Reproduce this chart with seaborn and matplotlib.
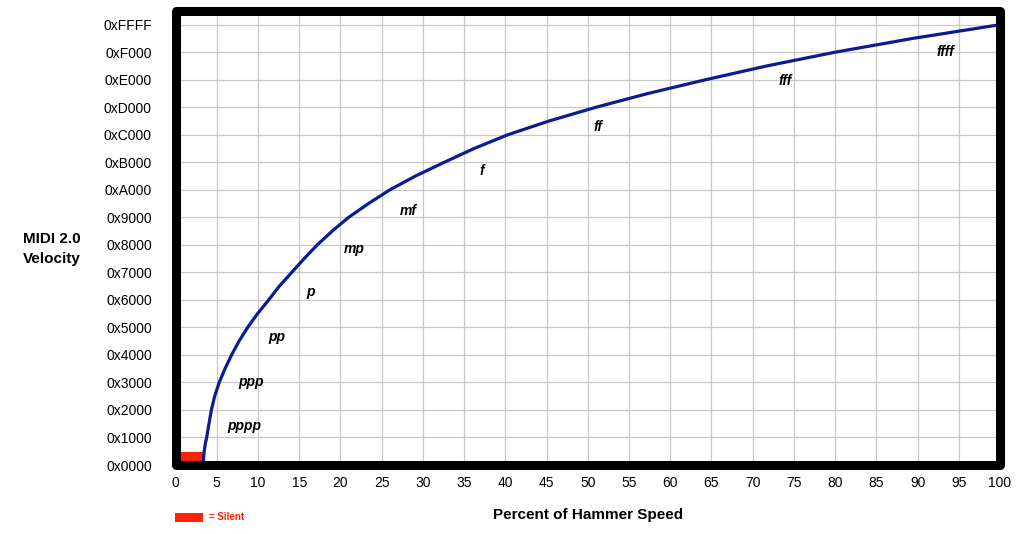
import numpy as np
import pandas as pd
import matplotlib
matplotlib.use("Agg")
import matplotlib.pyplot as plt
from matplotlib.patches import Rectangle
import seaborn as sns

# hammer speed (%) vs MIDI 2.0 velocity
speed = [3.38, 3.40, 3.48, 3.60, 3.78, 4.0, 4.35, 4.75, 5.3, 6.0, 6.8, 7.7,
         8.75, 9.95, 11.3, 12.6, 14.1, 15.6, 17.2, 19.0, 21.0, 23.4, 26.0,
         29.1, 32.6, 36.2, 40.3, 45.3, 51.0, 57.3, 64.3, 71.7, 80.0, 89.4,
         100]
velocity = [0, 1024, 2048, 3072, 4096, 5734, 8192, 10240, 12288, 14336,
            16384, 18432, 20480, 22528, 24576, 26624, 28672, 30720, 32768,
            34816, 36864, 38912, 40960, 43008, 45056, 47104, 49152, 51200,
            53248, 55296, 57344, 59392, 61440, 63488, 65535]

# silent zone
silent_x = [0, 3.4]
silent_top = 1920

dyn_labels = ["pppp", "ppp", "pp", "p", "mp", "mf", "f", "ff", "fff", "ffff"]
dyn_x = [8.3, 9.15, 12.3, 16.4, 21.7, 28.2, 37.2, 51.2, 74.0, 93.4]
dyn_y = [5734, 12288, 19100, 25800, 32200, 37850, 43800, 50350, 57200, 61440]

xticks = list(range(0, 101, 5))
yticks = [i * 0x1000 for i in range(16)] + [0xFFFF]
ylabels = ["0x%04X" % v for v in yticks]

sns.set_theme(style="whitegrid")
plt.rcParams['font.family'] = ['Liberation Sans', 'DejaVu Sans']

fig = plt.figure(figsize=(10.24, 5.34), dpi=100)
ax = fig.add_axes([0.1714, 0.1292, 0.8052, 0.8493])

df = pd.DataFrame({"speed": speed, "velocity": velocity})
sns.lineplot(data=df, x="speed", y="velocity", ax=ax, color="#0a1c94",
             linewidth=2.3, zorder=3, solid_joinstyle="round")

ax.add_patch(Rectangle((silent_x[0], 0), silent_x[1] - silent_x[0], silent_top,
                       facecolor="#ff2200", edgecolor="none", zorder=2))

for lab, x, y in zip(dyn_labels, dyn_x, dyn_y):
    ax.text(x, y, lab, ha="center", va="center", fontsize=10,
            style="italic", fontweight="bold", color="black", zorder=4)

ax.set_xlim(0, 100)
ax.set_ylim(0, 67500)
ax.set_xticks(xticks)
ax.set_yticks(yticks)
ax.set_yticklabels(ylabels)
ax.tick_params(axis="both", length=0, labelsize=10, colors="black")
ax.tick_params(axis="y", pad=17)
ax.tick_params(axis="x", pad=8)
ax.grid(True, color="#c8c8c8", linewidth=0.9)
ax.set_facecolor("white")
for s in ax.spines.values():
    s.set_visible(False)

ax.add_patch(Rectangle((0, 0), 1, 1, transform=ax.transAxes, fill=False,
                       linewidth=6.5, edgecolor="black", joinstyle="round",
                       clip_on=False, zorder=6))

ax.set_xlabel("Percent of Hammer Speed", fontsize=11, fontweight="bold",
              color="black", va="center")
ax.xaxis.set_label_coords(0.5, -0.11)
ax.set_ylabel("MIDI 2.0\nVelocity", fontsize=11, fontweight="bold",
              color="black", rotation=0, ha="center", va="center",
              linespacing=1.55)
ax.yaxis.set_label_coords(-0.15, 0.477)

# legend for the silent zone
fig.patches.append(Rectangle((0.171, 0.0225), 0.0273, 0.0169,
                             transform=fig.transFigure, facecolor="#ff2200",
                             edgecolor="none"))
fig.text(0.204, 0.031, "= Silent", color="#ff2200", fontsize=7,
         fontweight="bold", va="center", ha="left")

fig.savefig("out.png", dpi=100, facecolor="white")
